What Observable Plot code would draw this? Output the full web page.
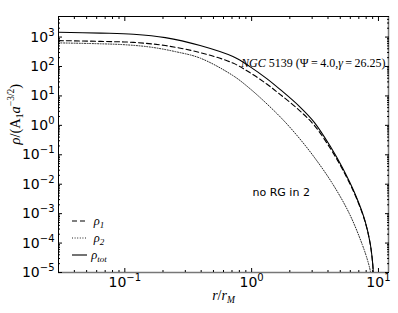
<!DOCTYPE html>
<html><head><meta charset="utf-8">
<script src="https://cdn.jsdelivr.net/npm/d3@7"></script>
<script src="https://cdn.jsdelivr.net/npm/@observablehq/plot@0.6"></script>
<style>body{margin:0;background:#fff} svg{display:block}</style>
</head><body><div id="chart"></div>
<script>
// ---- data ----
const rTot   = [0.03, 0.0645, 0.117, 0.2086, 0.3925, 0.712, 0.968, 1.316, 1.664, 2.388, 3.131, 4.18, 5.19, 6.57, 7.865, 8.61, 9.006, 9.17];
const rhoTot = [1452, 1365, 1253, 960, 514, 217, 99.3, 38.9, 17.1, 4.35, 1.245, 0.1905, 0.0369, 0.00446, 5.39e-4, 9.66e-5, 2.02e-5, 5.35e-6];
const r1     = [0.03, 0.0645, 0.117, 0.2086, 0.3925, 0.712, 0.968, 1.316, 1.664, 2.388, 3.131, 4.18, 5.19, 6.57, 7.865, 8.61, 9.006, 9.17];
const rho1   = [759, 713, 659, 514, 297, 130.6, 62.1, 25.3, 11.56, 3.18, 0.984, 0.163, 0.0328, 0.00412, 5.12e-4, 9.29e-5, 1.95e-5, 5.14e-6];
const r2     = [0.03, 0.0645, 0.1013, 0.159, 0.2497, 0.3925, 0.712, 0.968, 1.389, 1.822, 2.388, 3.131, 4.335, 5.89, 7.45, 8.30, 8.69, 8.925];
const rho2   = [634, 591, 547, 457, 321, 193, 49.2, 17.8, 4.35, 1.346, 0.356, 0.0805, 0.01054, 1.01e-3, 8.93e-5, 2.19e-5, 9.25e-6, 1.66e-6];

const xMajorTicks = [0.1, 1, 10];
const xTickLabels = ["10^−1", "10^0", "10^1"];
const yMajorTicks = [1e-5, 1e-4, 1e-3, 1e-2, 1e-1, 1, 10, 100, 1000];
const yTickLabels = ["10^−5", "10^−4", "10^−3", "10^−2", "10^−1", "10^0", "10^1", "10^2", "10^3"];
const seriesNames = ["ρ_1", "ρ_2", "ρ_tot"];
const xTitle = "r/r_M";
const yTitle = "ρ/(A_1a^{−3/2})";
const annotation = "NGC 5139 (Ψ=4.0,γ=26.25)";
const note = "no RG in 2";

// ---- build ----
const xDomain = [0.03, 12], yDomain = [1e-5, 5e3];
function minorTicks([lo, hi]) {
  const out = [];
  for (let k = Math.floor(Math.log10(lo)); k <= Math.ceil(Math.log10(hi)); k++)
    for (let m = 2; m <= 9; m++) { const v = m * Math.pow(10, k); if (v >= lo && v <= hi) out.push(v); }
  return out;
}
const toRows = (rs, vs) => rs.map((r, i) => ({r, v: vs[i]}));
const dTot = toRows(rTot, rhoTot), d1 = toRows(r1, rho1), d2 = toRows(r2, rho2);

const serif = "Liberation Serif";
const chart = Plot.plot({
  width: 398, height: 313,
  marginLeft: 58, marginRight: 10, marginTop: 16, marginBottom: 41,
  style: {fontFamily: "DejaVu Sans", fontSize: "14px", color: "black", background: "white"},
  x: {type: "log", domain: xDomain},
  y: {type: "log", domain: yDomain},
  marks: [
    Plot.line(d2, {x: "r", y: "v", stroke: "#222", strokeWidth: 1, strokeDasharray: "1,1.6", curve: "catmull-rom", clip: true}),
    Plot.line(d1, {x: "r", y: "v", stroke: "black", strokeWidth: 1.1, strokeDasharray: "5,3", curve: "catmull-rom", clip: true}),
    Plot.line(dTot, {x: "r", y: "v", stroke: "black", strokeWidth: 1.1, curve: "catmull-rom", clip: true}),
    // frame
    Plot.ruleX([xDomain[0]], {stroke: "black", strokeWidth: 1}),
    Plot.ruleY([yDomain[1]], {stroke: "black", strokeWidth: 1}),
    Plot.ruleX([xDomain[1]], {stroke: "#777", strokeWidth: 1.5}),
    Plot.ruleY([yDomain[0]], {stroke: "#777", strokeWidth: 1.5}),
    // inward ticks, all four sides
    Plot.axisX(xMajorTicks, {anchor: "bottom", tickSize: -4, tickFormat: () => "", label: null}),
    Plot.axisX(xMajorTicks, {anchor: "top", tickSize: -4, tickFormat: () => "", label: null}),
    Plot.axisX(minorTicks(xDomain), {anchor: "bottom", tickSize: -2, tickFormat: () => "", label: null}),
    Plot.axisX(minorTicks(xDomain), {anchor: "top", tickSize: -2, tickFormat: () => "", label: null}),
    Plot.axisY(yMajorTicks, {anchor: "left", tickSize: -4, tickFormat: () => "", label: null}),
    Plot.axisY(yMajorTicks, {anchor: "right", tickSize: -4, tickFormat: () => "", label: null}),
    Plot.axisY(minorTicks(yDomain), {anchor: "left", tickSize: -2, tickFormat: () => "", label: null}),
    Plot.axisY(minorTicks(yDomain), {anchor: "right", tickSize: -2, tickFormat: () => "", label: null}),
    // tick labels
    Plot.axisX(xMajorTicks, {anchor: "bottom", tickSize: 0, tickPadding: 5, fontSize: 14, tickFormat: d => xTickLabels[xMajorTicks.indexOf(d)], label: null}),
    Plot.axisY(yMajorTicks, {anchor: "left", tickSize: 0, tickPadding: 4, fontSize: 14, tickFormat: d => yTickLabels[yMajorTicks.indexOf(d)], label: null}),
    // titles & annotations
    Plot.text([xTitle], {frameAnchor: "bottom", dy: 27, text: d => d, fontFamily: serif, fontSize: 14}),
    Plot.text([yTitle], {frameAnchor: "left", dx: -43, rotate: -90, text: d => d, fontFamily: serif, fontSize: 14.5}),
    Plot.text([annotation], {frameAnchor: "top-right", dx: -3, dy: 42, textAnchor: "end", text: d => d, fontFamily: serif, fontSize: 12}),
    Plot.text([note], {frameAnchor: "top-left", dx: 194, dy: 172, textAnchor: "start", text: d => d, fontSize: 11})
  ]
});
document.getElementById("chart").appendChild(chart);

// ---- rich text (super/subscripts) ----
const NS = "http://www.w3.org/2000/svg";
function setRich(el, parts) {
  while (el.firstChild) el.removeChild(el.firstChild);
  let shift = 0;
  for (const p of parts) {
    const ts = document.createElementNS(NS, "tspan");
    ts.textContent = p.t;
    if (p.size) ts.setAttribute("font-size", p.size);
    if (p.italic) ts.setAttribute("font-style", "italic");
    const target = p.shift || 0;
    const dy = shift - target;
    if (dy) ts.setAttribute("dy", dy);
    shift = target;
    el.appendChild(ts);
  }
}
const svg = chart.tagName.toLowerCase() === "svg" ? chart : chart.querySelector("svg");
svg.querySelectorAll("text").forEach(el => {
  const s = el.textContent;
  let m;
  if ((m = s.match(/^10\^(.+)$/))) {
    setRich(el, [{t: "10"}, {t: m[1], size: 10, shift: 6}]);
  } else if (s === xTitle) {
    setRich(el, [{t: "r", italic: true}, {t: "/"}, {t: "r", italic: true}, {t: "M", italic: true, size: 9.5, shift: -3}]);
  } else if (s === yTitle) {
    setRich(el, [{t: "ρ", italic: true}, {t: "/("}, {t: "A"}, {t: "1", size: 9.5, shift: -3}, {t: "a", italic: true}, {t: "−3/2", size: 9.5, shift: 6}, {t: ")"}]);
  } else if (s === annotation) {
    setRich(el, [{t: "NGC", italic: true}, {t: " 5139 (Ψ\u2009=\u20094.0,"}, {t: "γ", italic: true}, {t: "\u2009=\u200926.25)"}]);
  }
});

// ---- legend (lower left, inside frame) ----
const legend = d3.select(svg).append("g");
const L = {x0: 58 + 14, x1: 58 + 29, tx: 58 + 41, y0: 272 - 51, step: 17};
const styles = [{dash: "5,3", stroke: "black"}, {dash: "1,1.6", stroke: "#222"}, {dash: null, stroke: "black"}];
seriesNames.forEach((name, i) => {
  const y = L.y0 + i * L.step;
  legend.append("line").attr("x1", L.x0).attr("x2", L.x1).attr("y1", y).attr("y2", y)
    .attr("stroke", styles[i].stroke).attr("stroke-width", 1.1).attr("stroke-dasharray", styles[i].dash);
  const t = legend.append("text").attr("x", L.tx).attr("y", y).attr("dy", "0.32em")
    .attr("font-family", serif).attr("font-size", 12.5).attr("fill", "black").node();
  const [base, sub] = name.split("_");
  setRich(t, [{t: base, italic: true}, {t: sub, italic: true, size: 9, shift: -3}]);
});
</script>
</body></html>
